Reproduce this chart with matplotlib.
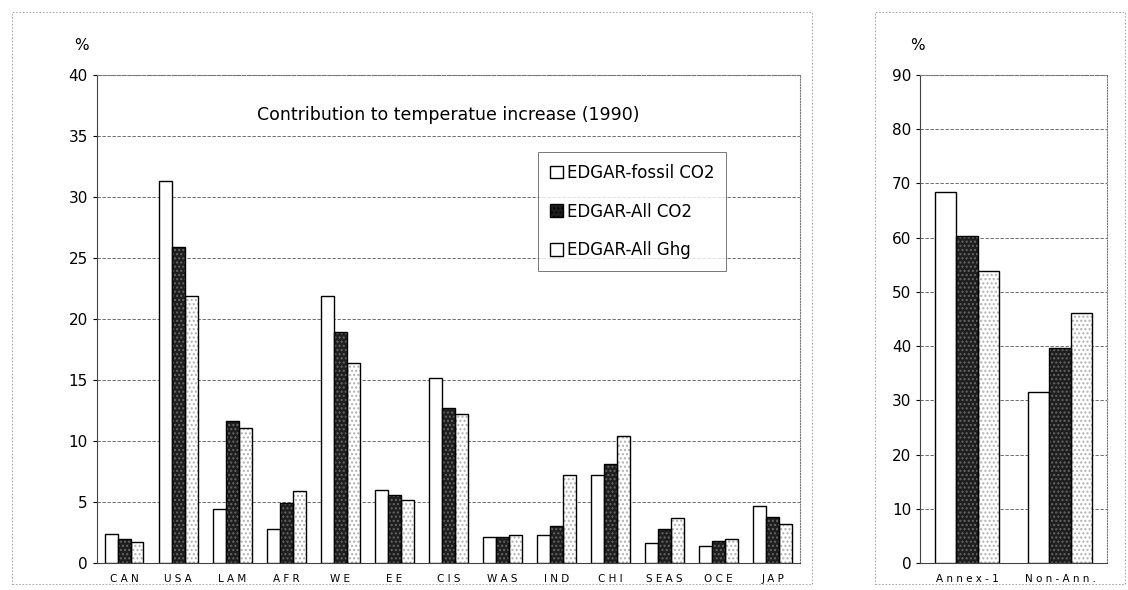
import numpy as np
import matplotlib.pyplot as plt
from matplotlib.patches import Rectangle, Patch

regions = ["CAN", "USA", "LAM", "AFR", "WE", "EE", "CIS", "WAS", "IND", "CHI", "SEAS", "OCE", "JAP"]
fossil_co2 = [2.4, 31.3, 4.4, 2.8, 21.9, 6.0, 15.2, 2.1, 2.3, 7.2, 1.6, 1.4, 4.7]
all_co2 = [2.0, 25.9, 11.6, 4.9, 18.9, 5.6, 12.7, 2.1, 3.0, 8.1, 2.8, 1.8, 3.8]
all_ghg = [1.7, 21.9, 11.1, 5.9, 16.4, 5.2, 12.2, 2.3, 7.2, 10.4, 3.7, 2.0, 3.2]

groups = ["Annex-1", "Non-Ann."]
grp_fossil = [68.5, 31.5]
grp_co2 = [60.3, 39.7]
grp_ghg = [53.8, 46.2]

labels = ["EDGAR-fossil CO2", "EDGAR-All CO2", "EDGAR-All Ghg"]

fig = plt.figure(figsize=(11.28, 5.9), dpi=100)
ax1 = fig.add_axes([0.086, 0.0458, 0.623, 0.827])
ax2 = fig.add_axes([0.816, 0.0458, 0.165, 0.827])

# panel frames
for x0, w in [(0.011, 0.709), (0.776, 0.221)]:
    fig.patches.append(Rectangle((x0, 0.01), w, 0.97, transform=fig.transFigure,
                                 fill=False, ec="#999999", lw=0.6, ls=(0, (2, 2))))

def draw(ax, cats, series, w=0.24):
    x = np.arange(len(cats))
    for i, vals in enumerate(series):
        pos = x + (i - 1) * w
        if i == 0:
            ax.bar(pos, vals, w, facecolor="white", edgecolor="black", lw=1.0, zorder=3)
        elif i == 1:
            ax.bar(pos, vals, w, facecolor="#1e1e1e", edgecolor="#666666", hatch="....",
                   lw=0, zorder=3)
            ax.bar(pos, vals, w, facecolor="none", edgecolor="black", lw=1.0, zorder=4)
        else:
            ax.bar(pos, vals, w, facecolor="white", edgecolor="#b0b0b0", hatch="....",
                   lw=0, zorder=3)
            ax.bar(pos, vals, w, facecolor="none", edgecolor="black", lw=1.0, zorder=4)
    ax.set_xticks(x)
    ax.set_xticklabels([" ".join(c) for c in cats], fontsize=7.5)
    ax.set_xlim(-0.5, len(cats) - 0.5)
    ax.yaxis.grid(True, color="#555555", lw=0.6, ls=(0, (4, 2)), zorder=0)
    ax.tick_params(axis="y", labelsize=11, length=3)
    ax.tick_params(axis="x", length=0, pad=8)
    for s in ["top", "right"]:
        ax.spines[s].set_linestyle((0, (1, 1.5)))
        ax.spines[s].set_color("#777777")
        ax.spines[s].set_linewidth(0.8)
    ax.spines["left"].set_color("#444444")
    ax.spines["bottom"].set_color("#444444")

draw(ax1, regions, [fossil_co2, all_co2, all_ghg])
ax1.set_ylim(0, 40)
ax1.set_yticks(range(0, 41, 5))
ax1.set_title("Contribution to temperatue increase (1990)", fontsize=12.5, y=0.89)
handles = [Patch(facecolor="white", edgecolor="black", lw=1.0),
           Patch(facecolor="#1e1e1e", edgecolor="black", hatch="....", lw=1.0),
           Patch(facecolor="white", edgecolor="black", lw=1.0)]
leg = ax1.legend(handles, labels, loc="upper right", bbox_to_anchor=(0.895, 0.842), fontsize=12,
                 fancybox=False, edgecolor="#555555", handlelength=0.8, handleheight=0.8,
                 handletextpad=0.2, labelspacing=1.25, borderpad=0.7, borderaxespad=0)
leg.get_frame().set_linewidth(0.7)
fig.text(0.066, 0.915, "%", fontsize=11)

draw(ax2, groups, [grp_fossil, grp_co2, grp_ghg], w=0.23)
ax2.set_ylim(0, 90)
ax2.set_yticks(range(0, 91, 10))
fig.text(0.807, 0.915, "%", fontsize=11)

fig.savefig("out.png", dpi=100)
